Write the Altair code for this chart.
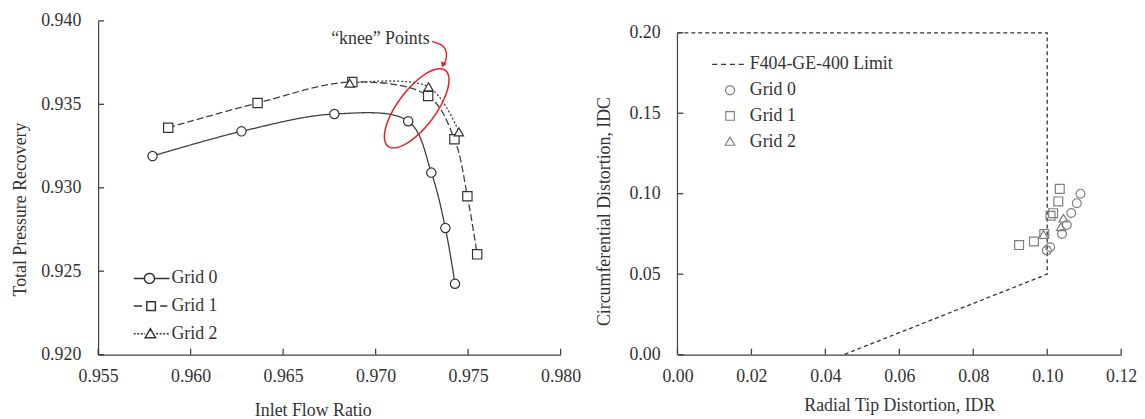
import altair as alt
import pandas as pd
import numpy as np

FONT = "Liberation Serif"
TXT = "#333333"
AX = "#404040"

# ---------------- data: left panel ----------------
grids = ["Grid 0", "Grid 1", "Grid 2"]
g0_x = [0.95794, 0.96275, 0.96777, 0.97176, 0.97301, 0.97377, 0.97429]
g0_y = [0.93190, 0.93338, 0.93442, 0.93399, 0.93091, 0.92759, 0.92425]
g1_x = [0.95879, 0.96362, 0.96874, 0.97284, 0.97426, 0.97496, 0.97549]
g1_y = [0.93360, 0.93508, 0.93634, 0.93550, 0.93291, 0.92949, 0.92601]
g2_x = [0.96860, 0.97286, 0.97450]
g2_y = [0.93627, 0.93605, 0.93335]
L_xticks = [0.955, 0.960, 0.965, 0.970, 0.975, 0.980]
L_yticks = [0.920, 0.925, 0.930, 0.935, 0.940]

knee_text = ["\u201cknee\u201d Points"]
knee_text_x = [0.97026]
knee_text_y = [0.93890]
ellipse_x = [0.97222]
ellipse_y = [0.93476]
arrow_x = [0.97304, 0.97361, 0.97382, 0.97379, 0.97365]
arrow_y = [0.93877, 0.93852, 0.93812, 0.93763, 0.93730]
arrowhead_x = [0.97364]
arrowhead_y = [0.93736]

# ---------------- data: right panel ----------------
r0_x = [0.0999, 0.1008, 0.1040, 0.1053, 0.1065, 0.1080, 0.1090]
r0_y = [0.0648, 0.0667, 0.0750, 0.0806, 0.0880, 0.0941, 0.1000]
r1_x = [0.0924, 0.0964, 0.0992, 0.1009, 0.1016, 0.1030, 0.1034]
r1_y = [0.0681, 0.0703, 0.0749, 0.0863, 0.0879, 0.0952, 0.1030]
r2_x = [0.0990, 0.1037, 0.1044]
r2_y = [0.0747, 0.0795, 0.0848]
limit_x = [0.0, 0.1, 0.1, 0.045]
limit_y = [0.20, 0.20, 0.05, 0.0]
limit_name = "F404-GE-400 Limit"
R_xticks = [0.00, 0.02, 0.04, 0.06, 0.08, 0.10, 0.12]
R_yticks = [0.00, 0.05, 0.10, 0.15, 0.20]

# ---------------- symbol path helpers (styling only) ----------------
def f(v):
    return f"{v:.3f}"

def seg(a, b):
    return f"M{f(a)},0L{f(b)},0"

def dashed(a, b, d, g):
    out, x = [], a
    while x < b - 1e-9:
        e = min(x + d, b)
        out.append(seg(x, e))
        x = e + g
    return "".join(out)

def circ(cx, r, n=40):
    t = np.linspace(0, 2 * np.pi, n, endpoint=False)
    pts = [(cx + r * np.cos(a), r * np.sin(a)) for a in t]
    return "M" + "L".join(f"{f(px)},{f(py)}" for px, py in pts) + "Z"

def square(cx, h):
    return f"M{f(cx-h)},{f(-h)}L{f(cx+h)},{f(-h)}L{f(cx+h)},{f(h)}L{f(cx-h)},{f(h)}Z"

def tri(cx, h):
    return f"M{f(cx)},{f(-h)}L{f(cx+h)},{f(h*0.75)}L{f(cx-h)},{f(h*0.75)}Z"

def ellipse(ratio, n=72):
    t = np.linspace(0, 2 * np.pi, n, endpoint=False)
    return "M" + "L".join(f"{f(np.cos(a))},{f(ratio*np.sin(a))}" for a in t) + "Z"

L_leg_paths = [
    seg(-1, -0.40) + circ(-0.12, 0.28) + seg(0.16, 1.0),
    seg(-1, -0.54) + square(-0.03, 0.24) + seg(0.48, 0.88),
    dashed(-1, -0.36, 0.11, 0.09) + tri(-0.07, 0.29) + dashed(0.25, 0.97, 0.11, 0.09),
]
R_series = [limit_name] + grids
R_leg_paths = [
    dashed(-1, 1, 0.32, 0.24),
    circ(0.13, 0.28),
    square(0.13, 0.27),
    tri(0.13, 0.30),
]

# ---------------- frames ----------------
left_df = pd.DataFrame({
    "x": g0_x + g1_x + g2_x,
    "y": g0_y + g1_y + g2_y,
    "grid": ["Grid 0"] * len(g0_x) + ["Grid 1"] * len(g1_x) + ["Grid 2"] * len(g2_x),
})
right_df = pd.DataFrame({
    "x": r0_x + r1_x + r2_x,
    "y": r0_y + r1_y + r2_y,
    "grid": ["Grid 0"] * len(r0_x) + ["Grid 1"] * len(r1_x) + ["Grid 2"] * len(r2_x),
})
limit_df = pd.DataFrame({"x": limit_x, "y": limit_y, "o": list(range(len(limit_x)))})

LW, LH = 467, 337
RW, RH = 448, 337
R_top = R_yticks[-1] * RH / 325.0   # plot area reaches a little above the 0.20 line
TICK = 6

xsL = alt.Scale(domain=[L_xticks[0], L_xticks[-1]], nice=False, zero=False)
ysL = alt.Scale(domain=[L_yticks[0], L_yticks[-1]], nice=False, zero=False)
xsR = alt.Scale(domain=[R_xticks[0], R_xticks[-1]], nice=False, zero=False)
ysR = alt.Scale(domain=[R_yticks[0], R_top], nice=False, zero=False)

common_axis = dict(grid=False, ticks=False, tickSize=0, domainColor=AX, domainWidth=1.2,
                   labelFont=FONT, labelFontSize=18, labelColor=TXT, titleFont=FONT,
                   titleFontSize=18, titleFontWeight="normal", titleColor=TXT)

axL_x = alt.Axis(values=L_xticks, format=".3f", title="Inlet Flow Ratio", labelFlush=False,
                 labelPadding=13.5, titlePadding=16, titleX=216.7, labelOverlap=False, **common_axis)
axL_y = alt.Axis(values=L_yticks, format=".3f", title="Total Pressure Recovery",
                 labelPadding=17.5, titlePadding=11, titleY=190, labelOverlap=False, **common_axis)
axR_x = alt.Axis(values=R_xticks, format=".2f", title="Radial Tip Distortion, IDR", labelFlush=False,
                 labelPadding=13.5, titlePadding=11, labelOverlap=False, **common_axis)
axR_y = alt.Axis(values=R_yticks, format=".2f", title="Circumferential Distortion, IDC",
                 labelPadding=17.5, titlePadding=16, titleY=192, labelOverlap=False,
                 **{**common_axis, "domainColor": "transparent"})


def xticks_layer(values, scale, h):
    # short inward tick segments on the bottom axis (x and x2 both from data -> segment rule)
    return alt.Chart(pd.DataFrame({"v": values})).mark_rule(color=AX, strokeWidth=1.3).encode(
        x=alt.X("v:Q", scale=scale), x2=alt.X2("v"),
        y=alt.value(h), y2=alt.value(h - TICK))


def yticks_layer(values, scale):
    return alt.Chart(pd.DataFrame({"w": values})).mark_rule(color=AX, strokeWidth=1.3).encode(
        y=alt.Y("w:Q", scale=scale), y2=alt.Y2("w"),
        x=alt.value(0), x2=alt.value(TICK))


# ---------------- left panel ----------------
lines = alt.Chart(left_df).mark_line(interpolate="catmull-rom", color=AX, strokeWidth=1.3).encode(
    x=alt.X("x:Q", scale=xsL, axis=axL_x),
    y=alt.Y("y:Q", scale=ysL, axis=axL_y),
    strokeDash=alt.StrokeDash("grid:N", scale=alt.Scale(domain=grids, range=[[1, 0], [7, 3], [2, 2]]),
                              legend=None),
)
pts = alt.Chart(left_df).mark_point(filled=True, fill="white", stroke="#333333", strokeWidth=1.2,
                                    size=88, opacity=1).encode(
    x=alt.X("x:Q", scale=xsL), y=alt.Y("y:Q", scale=ysL),
    shape=alt.Shape("grid:N", scale=alt.Scale(domain=grids, range=["circle", "square", "triangle-up"]),
                    legend=None),
)
legL = alt.Chart(pd.DataFrame({"grid": grids})).transform_filter("false").mark_point(
    filled=False, stroke="#333333", strokeWidth=1.2, opacity=1).encode(
    shape=alt.Shape("grid:N", scale=alt.Scale(domain=grids, range=L_leg_paths),
                    legend=alt.Legend(orient="none", legendX=35, legendY=241, title=None,
                                      symbolSize=1296, labelFont=FONT, labelFontSize=18,
                                      labelColor=TXT, labelOffset=1, rowPadding=0, padding=0)),
)

knee_t = alt.Chart(pd.DataFrame({"x": knee_text_x, "y": knee_text_y, "t": knee_text})).mark_text(
    font=FONT, fontSize=18, color=TXT, align="center", baseline="middle").encode(
    x=alt.X("x:Q", scale=xsL), y=alt.Y("y:Q", scale=ysL), text="t:N")
ell = alt.Chart(pd.DataFrame({"x": ellipse_x, "y": ellipse_y})).mark_point(
    shape=ellipse(0.396), size=9216, angle=307, filled=False, stroke="#ee1c25", strokeWidth=1.5,
    opacity=1).encode(x=alt.X("x:Q", scale=xsL), y=alt.Y("y:Q", scale=ysL))
arrow = alt.Chart(pd.DataFrame({"x": arrow_x, "y": arrow_y, "o": list(range(len(arrow_x)))})).mark_line(
    interpolate="cardinal", color="#ee1c25", strokeWidth=1.4).encode(
    x=alt.X("x:Q", scale=xsL), y=alt.Y("y:Q", scale=ysL), order="o:Q")
ahead = alt.Chart(pd.DataFrame({"x": arrowhead_x, "y": arrowhead_y})).mark_point(
    shape="triangle-down", size=38, angle=22, filled=True, color="#ee1c25", opacity=1).encode(
    x=alt.X("x:Q", scale=xsL), y=alt.Y("y:Q", scale=ysL))

left = alt.layer(lines, pts, legL, ell, arrow, ahead, knee_t,
                 xticks_layer(L_xticks, xsL, LH), yticks_layer(L_yticks, ysL)).resolve_scale(
    shape="independent").properties(width=LW, height=LH)

# ---------------- right panel ----------------
lim = alt.Chart(limit_df).mark_line(color="#333333", strokeWidth=1.3, strokeDash=[4, 3]).encode(
    x=alt.X("x:Q", scale=xsR, axis=axR_x),
    y=alt.Y("y:Q", scale=ysR, axis=axR_y),
    order="o:Q",
)
yaxis_line = alt.Chart(pd.DataFrame({"y": [R_yticks[0]], "y2": [R_yticks[-1]]})).mark_rule(
    color=AX, strokeWidth=1.2).encode(y=alt.Y("y:Q", scale=ysR), y2="y2:Q", x=alt.value(0))
rpts = alt.Chart(right_df).mark_point(filled=False, stroke="#7f7f7f", strokeWidth=1.2, size=80,
                                      opacity=1).encode(
    x=alt.X("x:Q", scale=xsR), y=alt.Y("y:Q", scale=ysR),
    shape=alt.Shape("grid:N", scale=alt.Scale(domain=grids, range=["circle", "square", "triangle-up"]),
                    legend=None),
)
legR_def = alt.Legend(orient="none", legendX=34, legendY=27, title=None, symbolSize=1024,
                      labelFont=FONT, labelFontSize=18, labelColor=TXT, labelOffset=5,
                      rowPadding=0, padding=0, symbolStrokeWidth=1.2)
legR = alt.Chart(pd.DataFrame({"s": R_series})).transform_filter("false").mark_point(
    filled=False, strokeWidth=1.2, opacity=1).encode(
    shape=alt.Shape("s:N", scale=alt.Scale(domain=R_series, range=R_leg_paths), legend=legR_def),
    stroke=alt.Stroke("s:N", scale=alt.Scale(domain=R_series,
                                             range=["#333333", "#7f7f7f", "#7f7f7f", "#7f7f7f"]),
                      legend=legR_def),
)

right = alt.layer(lim, yaxis_line, rpts, legR,
                  xticks_layer(R_xticks, xsR, RH), yticks_layer(R_yticks, ysR)).resolve_scale(
    shape="independent", stroke="independent").properties(width=RW, height=RH)

chart = alt.hconcat(left, right, spacing=14).properties(
    padding={"left": 4, "top": 2, "right": 0, "bottom": 0},
    background="white",
).configure_view(stroke=None)

chart.save("out.html", embed_options={"renderer": "svg", "actions": False})
